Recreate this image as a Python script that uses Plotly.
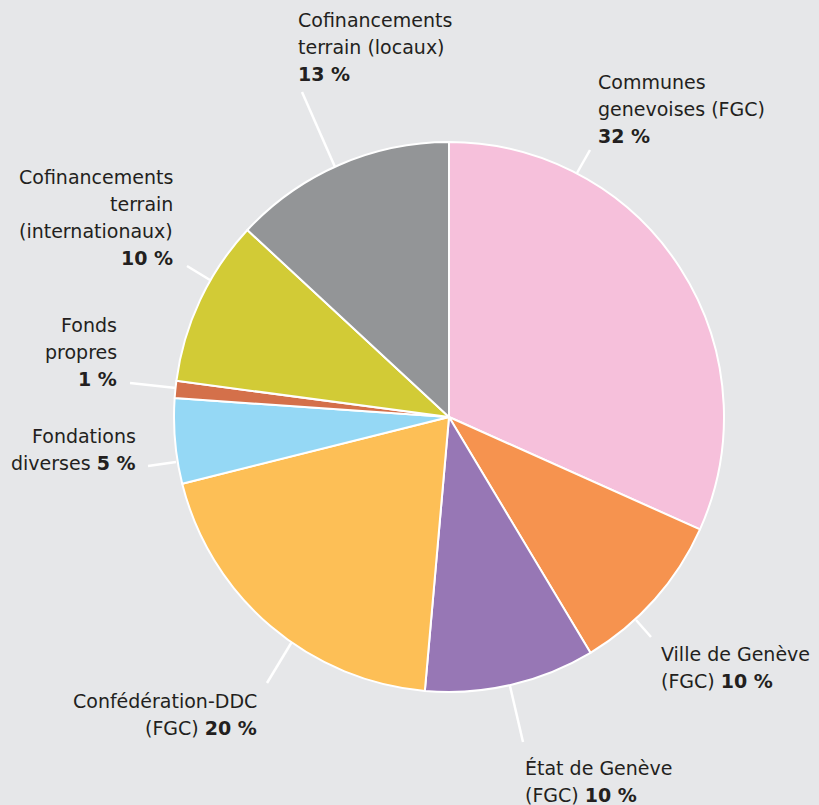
import plotly.graph_objects as go

W, H = 819, 805

labels = [
    "Communes genevoises (FGC)",
    "Ville de Genève (FGC)",
    "État de Genève (FGC)",
    "Confédération-DDC (FGC)",
    "Fondations diverses",
    "Fonds propres",
    "Cofinancements terrain (internationaux)",
    "Cofinancements terrain (locaux)",
]
values = [31.7, 9.7, 10.0, 19.7, 5.0, 1.0, 9.8, 13.1]
pct_labels = ["32 %", "10 %", "10 %", "20 %", "5 %", "1 %", "10 %", "13 %"]
# label text lines (the bold percentage is appended to the last line)
text_lines = [
    ["Communes", "genevoises (FGC)", ""],
    ["Ville de Genève", "(FGC) "],
    ["État de Genève", "(FGC) "],
    ["Confédération-DDC", "(FGC) "],
    ["Fondations", "diverses "],
    ["Fonds", "propres", ""],
    ["Cofinancements", "terrain", "(internationaux)", ""],
    ["Cofinancements", "terrain (locaux)", ""],
]
colors = ["#f6c0db", "#f6934f", "#9777b5", "#fdbf56",
          "#95d8f5", "#d4704a", "#d2cb36", "#939597"]

# layout: label anchor of first line (px), alignment, leader line (px)
label_pos = [
    (596, 82, "left"),
    (659, 654, "left"),
    (523, 768, "left"),
    (259, 701, "right"),
    (138, 436, "right"),
    (119, 325, "right"),
    (175, 177, "right"),
    (296, 20, "left"),
]
line_gap = 27
leaders = [
    ((590, 150), (577, 173)),
    ((636, 620), (651, 637)),
    ((510, 686), (523, 742)),
    ((293, 640), (267, 683)),
    ((176, 462), (148, 466)),
    ((176, 388), (130, 383)),
    ((210, 280), (187, 266)),
    ((335, 167), (302, 92)),
]

cx, cy, r = 449, 417, 275

def px(x):
    return x / W

def py(y):
    return 1 - y / H

fig = go.Figure(go.Pie(
    labels=labels,
    values=values,
    marker=dict(colors=colors, line=dict(color="white", width=2)),
    sort=False,
    direction="clockwise",
    rotation=0,
    textinfo="none",
    hoverinfo="label+percent",
    domain=dict(x=[px(cx - r), px(cx + r)], y=[py(cy + r), py(cy - r)]),
    showlegend=False,
))

annotations = []
for lines, pct, (x, y, al) in zip(text_lines, pct_labels, label_pos):
    n = len(lines)
    for i, ln in enumerate(lines):
        txt = ln + ("<b>" + pct + "</b>" if i == n - 1 else "")
        annotations.append(dict(
            x=px(x), y=py(y + i * line_gap), xref="paper", yref="paper",
            text=txt, showarrow=False, xanchor=al, yanchor="middle", align=al,
            font=dict(family="DejaVu Sans", size=19, color="#231f20"),
        ))

shapes = []
for (x0, y0), (x1, y1) in leaders:
    shapes.append(dict(type="line", xref="paper", yref="paper",
                       x0=px(x0), y0=py(y0), x1=px(x1), y1=py(y1),
                       line=dict(color="white", width=2.5), layer="below"))

fig.update_layout(
    width=W, height=H,
    margin=dict(l=0, r=0, t=0, b=0),
    paper_bgcolor="#e6e7e9",
    plot_bgcolor="#e6e7e9",
    annotations=annotations,
    shapes=shapes,
)

fig.write_html(
    "out.html",
    config={"displayModeBar": False},
    post_script="document.body.style.margin='0';document.body.style.overflow='hidden';",
)
